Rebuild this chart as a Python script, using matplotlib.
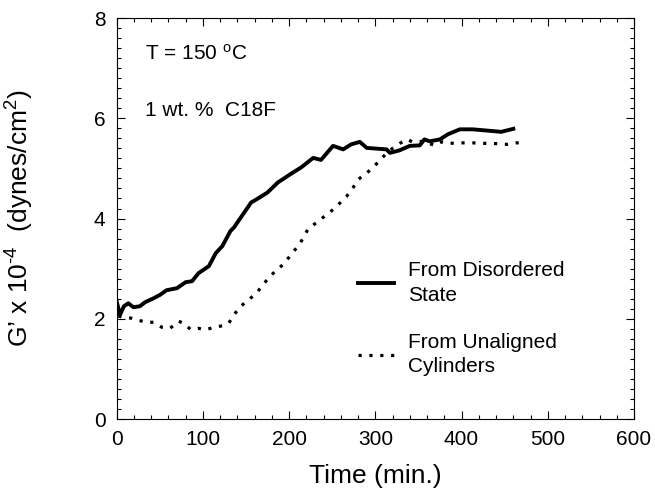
import matplotlib
matplotlib.use('Agg')
import matplotlib.pyplot as plt

plt.rcParams['font.family'] = ['Liberation Sans', 'DejaVu Sans']
plt.rcParams['mathtext.fontset'] = 'custom'
plt.rcParams['mathtext.rm'] = 'Liberation Sans'
plt.rcParams['mathtext.it'] = 'Liberation Sans:italic'

# From Disordered State (solid)
t_dis = [0, 4, 8.5, 13.6, 19.5, 27, 33, 43, 50.6, 58, 70, 80, 87.5, 95, 107, 115, 122.6,
         132, 136, 144, 156, 163, 175, 187, 202, 214, 228, 237, 251, 262.7, 272, 282, 290,
         305, 313, 317, 328, 340, 351.6, 357, 363, 375, 384, 398, 413, 433, 446, 460]
g_dis = [2.35, 2.08, 2.25, 2.31, 2.23, 2.25, 2.33, 2.41, 2.48, 2.57, 2.61, 2.73, 2.75, 2.91, 3.05, 3.31, 3.45,
         3.75, 3.82, 4.02, 4.32, 4.39, 4.52, 4.72, 4.89, 5.02, 5.21, 5.17, 5.45, 5.38, 5.48, 5.53, 5.41,
         5.39, 5.38, 5.31, 5.36, 5.45, 5.46, 5.58, 5.54, 5.58, 5.68, 5.78, 5.78, 5.75, 5.73, 5.79]

# From Unaligned Cylinders (dotted)
t_cyl = [2, 17.5, 23, 35, 43, 52.5, 62, 72, 78, 85.6, 95, 103, 113, 122.6, 130, 136, 144, 154,
         163, 175, 184, 195, 202, 212, 222, 237, 249, 259, 266.6, 274, 280, 288, 297, 305, 313,
         320.6, 328.4, 337, 343, 355, 369, 377, 386, 398, 413, 425, 434.7, 444, 452.8, 463.6, 472]
g_cyl = [2.05, 2.01, 1.98, 1.93, 1.93, 1.83, 1.81, 1.95, 1.91, 1.79, 1.81, 1.78, 1.83, 1.86, 1.91, 2.08, 2.25, 2.39,
         2.53, 2.79, 2.95, 3.11, 3.28, 3.48, 3.79, 3.99, 4.15, 4.31, 4.44, 4.61, 4.78, 4.88, 5.01, 5.16, 5.30,
         5.41, 5.50, 5.58, 5.53, 5.54, 5.46, 5.53, 5.50, 5.51, 5.51, 5.50, 5.50, 5.49, 5.48, 5.51, 5.51]

fig = plt.figure(figsize=(6.55, 4.95), dpi=100)
ax = fig.add_axes([0.178, 0.1535, 0.79, 0.81])

ax.plot(t_dis, g_dis, color='black', lw=2.8, label='From Disordered\nState')
ax.plot(t_cyl, g_cyl, color='black', lw=2.3, linestyle=(0, (1, 2.4)), label='From Unaligned\nCylinders')

ax.set_xlim(0, 600)
ax.set_ylim(0, 8)
ax.set_xticks(range(0, 601, 100))
ax.set_yticks(range(0, 9, 2))
ax.set_xticks(range(0, 601, 20), minor=True)
ax.set_yticks([i * 0.2 for i in range(41)], minor=True)
ax.tick_params(which='both', direction='in', top=True, right=True, labelsize=15, pad=8)
ax.tick_params(which='major', length=6, width=0.8)
ax.tick_params(which='minor', length=3, width=0.8)
for s in ax.spines.values():
    s.set_linewidth(0.8)

ax.set_xlabel('Time (min.)', fontsize=19, labelpad=11)
ax.set_ylabel("G\u2019 x 10$^{\\rm \u2010 4}$  (dynes/cm$^{\\rm 2}$)", fontsize=19)
ax.yaxis.set_label_coords(-0.155, 0.5)

ax.text(0.055, 0.895, r'T = 150 $^{\rm o}$C', transform=ax.transAxes, fontsize=15)
ax.text(0.055, 0.755, '1 wt. %  C18F', transform=ax.transAxes, fontsize=15)

leg = ax.legend(loc='upper left', bbox_to_anchor=(0.43, 0.44), frameon=False, fontsize=15,
                handlelength=1.75, handletextpad=0.65, labelspacing=1.35)
for txt in leg.get_texts():
    txt.set_linespacing(1.35)

fig.savefig('out.png', dpi=100)
